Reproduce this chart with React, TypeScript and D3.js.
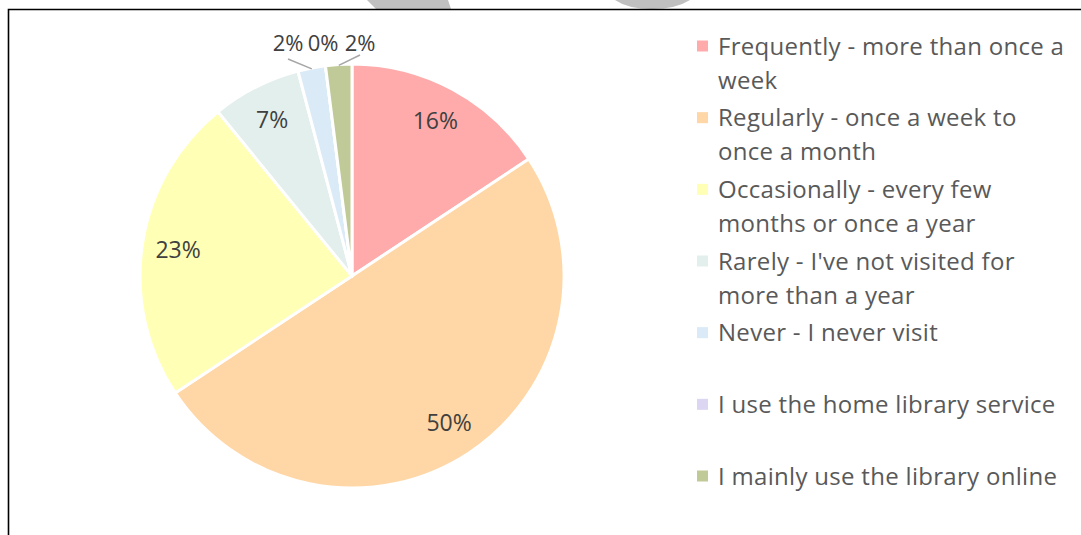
import React, { useEffect, useRef } from 'react';
import * as d3 from 'd3';

const categories = [
  'Frequently - more than once a week',
  'Regularly - once a week to once a month',
  'Occasionally - every few months or once a year',
  "Rarely - I've not visited for more than a year",
  'Never - I never visit',
  'I use the home library service',
  'I mainly use the library online',
];
// legend lines as wrapped in the original
const legendLines = [
  ['Frequently - more than once a', 'week'],
  ['Regularly - once a week to', 'once a month'],
  ['Occasionally - every few', 'months or once a year'],
  ["Rarely - I've not visited for", 'more than a year'],
  ['Never - I never visit'],
  ['I use the home library service'],
  ['I mainly use the library online'],
];
const shares = [15.7, 50.0, 23.4, 6.8, 2.1, 0.0, 2.0];
const colors = ['#FFABAB', '#FFD6A5', '#FFFFB5', '#E3EFEC', '#DAEAF6', '#DCD6F2', '#C0CA98'];

const width = 1081;
const height = 535;

function App() {
  const ref = useRef(null);

  useEffect(() => {
    const svg = d3.select(ref.current);
    svg.selectAll('*').remove();

    const font = '"Open Sans", sans-serif';

    // watermark bits bleeding in at the top
    svg.append('path').attr('d', 'M367,0 L448,0 L451,9 L376,9 Z').attr('fill', '#c0c0c0');
    svg.append('path').attr('d', 'M615,0 L690,0 Q676,9 652,9 Q628,9 615,0 Z').attr('fill', '#c0c0c0');

    // frame
    svg.append('path')
      .attr('d', `M8.5,${height} L8.5,9.5 L${width},9.5`)
      .attr('fill', 'none')
      .attr('stroke', '#000')
      .attr('stroke-width', 1.6);

    const cx = 352;
    const cy = 276;
    const r = 212;

    const data = categories.map((c, i) => ({ name: c, value: shares[i], color: colors[i] }));
    const pie = d3.pie().value(d => d.value).sort(null);
    const arcs = pie(data);
    const arc = d3.arc().innerRadius(0).outerRadius(r);

    const g = svg.append('g').attr('transform', `translate(${cx},${cy})`);

    g.selectAll('path.slice')
      .data(arcs)
      .enter()
      .append('path')
      .attr('class', 'slice')
      .attr('d', arc)
      .attr('fill', d => d.data.color)
      .attr('stroke', '#fff')
      .attr('stroke-width', 3)
      .attr('stroke-linejoin', 'round');

    // inside labels
    const labelArc = d3.arc().innerRadius(r * 0.83).outerRadius(r * 0.83);
    const inside = arcs.filter(d => d.data.value >= 5);
    g.selectAll('text.inlabel')
      .data(inside)
      .enter()
      .append('text')
      .attr('class', 'inlabel')
      .attr('x', d => labelArc.centroid(d)[0])
      .attr('y', d => labelArc.centroid(d)[1])
      .attr('dy', '0.36em')
      .attr('text-anchor', 'middle')
      .style('font-family', font)
      .style('font-size', '23px')
      .attr('fill', '#404040')
      .text(d => `${Math.round(d.data.value)}%`);

    // outside labels for the tiny slices
    const small = arcs.filter(d => d.data.value < 5);
    const outX = [-64, -29, 8];
    const lineStart = [[-64, -217], null, [8, -221]];
    small.forEach((d, i) => {
      const mid = (d.startAngle + d.endAngle) / 2;
      const lx = outX[i];
      g.append('text')
        .attr('x', lx)
        .attr('y', -225)
        .attr('text-anchor', 'middle')
        .style('font-family', font)
        .style('font-size', '22px')
        .attr('fill', '#404040')
        .text(`${Math.round(d.data.value)}%`);
      const s = lineStart[i];
      if (d.data.value > 0 && s) {
        g.append('line')
          .attr('x1', s[0])
          .attr('y1', s[1])
          .attr('x2', Math.sin(mid) * (r - 1))
          .attr('y2', -Math.cos(mid) * (r - 1))
          .attr('stroke', '#a6a6a6')
          .attr('stroke-width', 1.5);
      }
    });

    // legend
    const rowY = d3.scaleLinear().domain([0, categories.length - 1]).range([46, 476]);
    const legend = svg.append('g');
    legendLines.forEach((lines, i) => {
      const y = rowY(i);
      legend.append('rect')
        .attr('x', 697)
        .attr('y', y - 5.5)
        .attr('width', 11)
        .attr('height', 11)
        .attr('fill', colors[i]);
      lines.forEach((t, j) => {
        legend.append('text')
          .attr('x', 718)
          .attr('y', y + j * 34)
          .attr('dy', '0.36em')
          .style('font-family', font)
          .style('font-size', '24px')
          .style('letter-spacing', '0.3px')
          .attr('fill', '#595959')
          .text(t);
      });
    });
  }, []);

  return (
    <div style={{ position: 'fixed', left: 0, top: 0, width, height, background: '#fff' }}>
      <svg ref={ref} width={width} height={height}></svg>
    </div>
  );
}

export default App;
